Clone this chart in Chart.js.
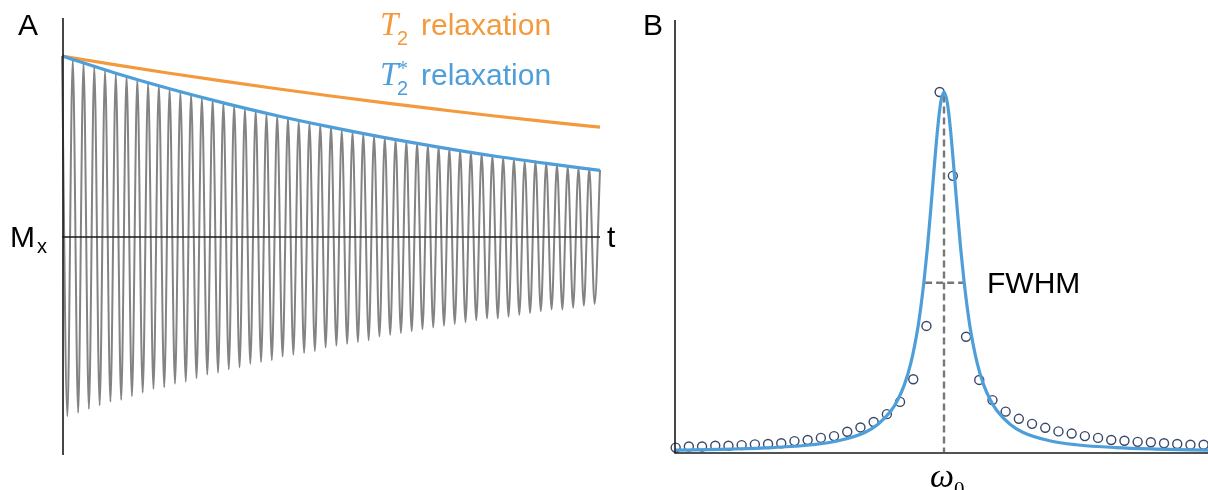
<!DOCTYPE html>
<html><head><meta charset="utf-8">
<script src="https://cdn.jsdelivr.net/npm/chart.js@4/dist/chart.umd.min.js"></script>
<style>
html,body{margin:0;padding:0;background:#fff;width:1208px;height:490px;overflow:hidden;}
#wrap{position:relative;width:1208px;height:490px;}
canvas{position:absolute;top:0;}
.lbl{position:absolute;font-family:"Liberation Sans",Arial,Helvetica,sans-serif;line-height:1;white-space:nowrap;color:#000;}
.math{font-family:"Liberation Serif","DejaVu Serif",serif;font-style:italic;}
.rom{font-family:"Liberation Serif","DejaVu Serif",serif;}
.or{color:#F29A3D;}
.bl{color:#4E9FD9;}
</style></head><body>
<div id="wrap">
<canvas id="cA" width="620" height="490" style="left:0px"></canvas>
<canvas id="cB" width="588" height="490" style="left:620px"></canvas>

<div class="lbl" style="left:18px;top:10px;font-size:30px">A</div>
<div class="lbl" style="left:643px;top:10px;font-size:30px">B</div>
<div class="lbl" style="left:10px;top:222px;font-size:30px">M</div>
<div class="lbl" style="left:37px;top:236px;font-size:20px">x</div>
<div class="lbl" style="left:607px;top:222px;font-size:30px">t</div>

<div class="lbl math or" style="left:380px;top:8px;font-size:33px">T</div>
<div class="lbl or" style="left:397px;top:28px;font-size:20px">2</div>
<div class="lbl or" style="left:421px;top:10px;font-size:30px">relaxation</div>

<div class="lbl math bl" style="left:380px;top:58px;font-size:33px">T</div>
<div class="lbl bl" style="left:397px;top:78px;font-size:20px">2</div>
<div class="lbl rom bl" style="left:398px;top:58px;font-size:20px">*</div>
<div class="lbl bl" style="left:421px;top:60px;font-size:30px">relaxation</div>

<div class="lbl" style="left:987px;top:268px;font-size:30px">FWHM</div>
<div class="lbl math" style="left:930px;top:459px;font-size:34px">ω</div>
<div class="lbl rom" style="left:954px;top:479px;font-size:21px">0</div>
</div>
<script>
// ---------- Panel A : FID signal (values at successive half-cycles) ----------
const peakValues = [1.00,0.98,0.96,0.94,0.92,0.90,0.89,0.87,0.85,0.84,0.82,0.80,0.79,0.77,0.76,0.74,0.73,0.71,0.70,0.68,0.67,0.66,0.64,0.63,0.62,0.61,0.59,0.58,0.57,0.56,0.55,0.54,0.53,0.52,0.51,0.50,0.49,0.48,0.47,0.46,0.45,0.44,0.43,0.42,0.42,0.41,0.40,0.39,0.38,0.38,0.37];
const troughValues = [-0.99,-0.97,-0.95,-0.93,-0.91,-0.90,-0.88,-0.86,-0.84,-0.83,-0.81,-0.80,-0.78,-0.76,-0.75,-0.73,-0.72,-0.70,-0.69,-0.68,-0.66,-0.65,-0.64,-0.63,-0.61,-0.60,-0.59,-0.58,-0.57,-0.55,-0.54,-0.53,-0.52,-0.51,-0.50,-0.49,-0.48,-0.47,-0.46,-0.45,-0.45,-0.44,-0.43,-0.42,-0.41,-0.40,-0.40,-0.39,-0.38,-0.37];
// envelopes
const envTimes = [0,10,20,30,40,50,60,70,80,90,100];
const t2Envelope = [1.00,0.951,0.905,0.861,0.819,0.779,0.741,0.705,0.670,0.638,0.607];
const t2StarEnvelope = [1.00,0.905,0.819,0.741,0.670,0.607,0.549,0.497,0.449,0.407,0.368];

// ---------- Panel B : spectrum ----------
const circleX = [0,1,2,3,4,5,6,7,8,9,10,11,12,13,14,15,16,17,18,19,20,21,22,23,24,25,26,27,28,29,30,31,32,33,34,35,36,37,38,39,40];
const circleY = [0.012,0.015,0.015,0.017,0.017,0.019,0.021,0.022,0.024,0.030,0.033,0.039,0.044,0.056,0.068,0.083,0.105,0.139,0.202,0.350,1.000,0.767,0.320,0.200,0.144,0.112,0.092,0.078,0.067,0.057,0.051,0.044,0.039,0.033,0.031,0.028,0.027,0.024,0.022,0.020,0.020];
const lorentzX = [0,4.33,7.33,10.33,12.33,14.33,15.33,16.33,16.83,17.33,17.83,18.33,18.58,18.83,19.08,19.33,19.58,19.83,20.08,20.33,20.58,20.83,21.08,21.33,21.58,21.83,22.08,22.33,22.83,23.33,23.83,24.33,25.33,26.33,28.33,30.33,33.33,36.33,40.33];
const lorentzY = [0.005,0.008,0.012,0.020,0.031,0.054,0.077,0.115,0.145,0.187,0.249,0.341,0.404,0.480,0.570,0.675,0.787,0.892,0.971,1.000,0.971,0.892,0.787,0.675,0.570,0.480,0.404,0.341,0.249,0.187,0.145,0.115,0.077,0.054,0.031,0.020,0.012,0.008,0.005];
const omega0 = 20.33;
const peakTop = 0.99;
const halfMax = 0.47;
const fwhmLeft = 18.9;
const fwhmRight = 21.9;

const BLUE = '#4E9FD9', ORANGE = '#F29A3D', GREY = '#838383';

// build signal points in half-cycle order
const signal = [];
peakValues.forEach((v, i) => {
  signal.push({x: 2 * i, y: v});
  if (i < troughValues.length) signal.push({x: 2 * i + 1, y: troughValues[i]});
});
const zip = (xs, ys) => xs.map((x, i) => ({x, y: ys[i]}));

const axesA = {
  id: 'axesA',
  afterDatasetsDraw(chart) {
    const {ctx, chartArea: a, scales: {y}} = chart;
    ctx.save();
    ctx.strokeStyle = '#1a1a1a';
    ctx.lineWidth = 1.6;
    ctx.beginPath();
    ctx.moveTo(a.left + 1, a.top);
    ctx.lineTo(a.left + 1, a.bottom);
    const y0 = Math.round(y.getPixelForValue(0));
    ctx.moveTo(a.left, y0);
    ctx.lineTo(a.right, y0);
    ctx.stroke();
    ctx.restore();
  }
};
const axesB = {
  id: 'axesB',
  afterDatasetsDraw(chart) {
    const {ctx, chartArea: a} = chart;
    ctx.save();
    ctx.strokeStyle = '#1a1a1a';
    ctx.lineWidth = 1.6;
    ctx.beginPath();
    ctx.moveTo(a.left, a.top);
    ctx.lineTo(a.left, a.bottom);
    ctx.lineTo(a.right, a.bottom);
    ctx.stroke();
    ctx.restore();
  }
};

const common = {
  responsive: false, animation: false, events: [],
  plugins: {legend: {display: false}, tooltip: {enabled: false}}
};

new Chart(document.getElementById('cA'), {
  type: 'line',
  data: {datasets: [
    {data: signal, borderColor: GREY, borderWidth: 2, pointRadius: 0, cubicInterpolationMode: 'monotone', clip: false, order: 3},
    {data: zip(envTimes, t2Envelope), borderColor: ORANGE, borderWidth: 3.2, pointRadius: 0, cubicInterpolationMode: 'monotone', clip: false, order: 2},
    {data: zip(envTimes, t2StarEnvelope), borderColor: BLUE, borderWidth: 3.2, pointRadius: 0, cubicInterpolationMode: 'monotone', clip: false, order: 1}
  ]},
  options: Object.assign({}, common, {
    layout: {autoPadding: false, padding: {left: 62, right: 20, top: 18, bottom: 35}},
    scales: {
      x: {type: 'linear', min: 0, max: 100, display: false},
      y: {type: 'linear', min: -1.204, max: 1.21, display: false}
    }
  }),
  plugins: [axesA]
});

new Chart(document.getElementById('cB'), {
  type: 'line',
  data: {datasets: [
    {data: zip([omega0, omega0], [peakTop, 0]), borderColor: '#777777', borderWidth: 2.4, borderDash: [7, 4], pointRadius: 0, clip: false, order: 3},
    {data: zip([fwhmLeft, fwhmRight], [halfMax, halfMax]), borderColor: '#777777', borderWidth: 2.4, borderDash: [7, 4], pointRadius: 0, clip: false, order: 3},
    {data: zip(circleX, circleY), showLine: false, pointRadius: 4.5, pointStyle: 'circle', pointBorderColor: '#39476a', pointBorderWidth: 1.4, pointBackgroundColor: 'rgba(255,255,255,0)', clip: false, order: 2},
    {data: zip(lorentzX, lorentzY), borderColor: BLUE, borderWidth: 3.2, pointRadius: 0, cubicInterpolationMode: 'monotone', clip: false, order: 1}
  ]},
  options: Object.assign({}, common, {
    layout: {autoPadding: false, padding: {left: 55, right: 0, top: 20, bottom: 37}},
    scales: {
      x: {type: 'linear', min: -0.05, max: 40.33, display: false},
      y: {type: 'linear', min: -0.003, max: 1.2, display: false}
    }
  }),
  plugins: [axesB]
});
</script>
</body></html>
